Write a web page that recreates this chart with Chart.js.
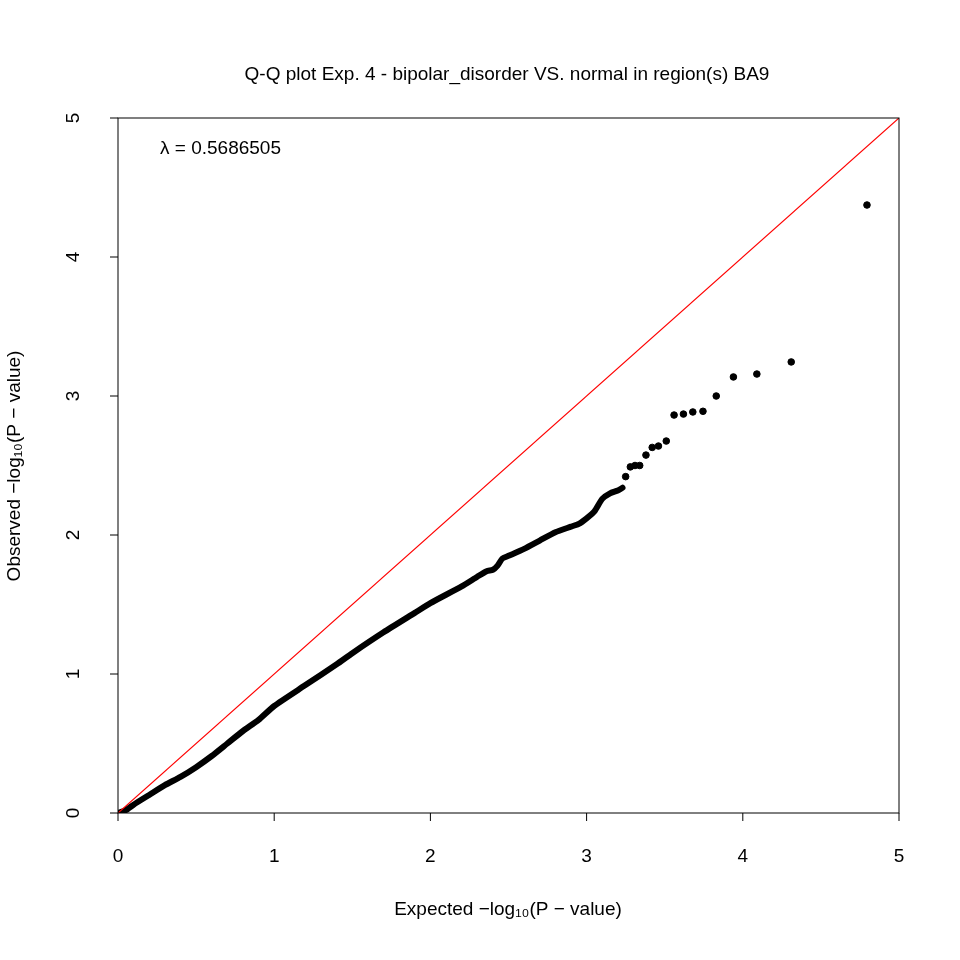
<!DOCTYPE html>
<html><head><meta charset="utf-8">
<script src="https://cdn.jsdelivr.net/npm/chart.js@4"></script>
<style>html,body{margin:0;padding:0;background:#fff}#w{width:960px;height:960px}</style>
</head><body><div id="w"><canvas id="c"></canvas></div>
<script>
const titleText = "Q-Q plot Exp. 4 - bipolar_disorder VS. normal in region(s) BA9";
const lambdaText = "λ = 0.5686505";
const xTicks = [0,1,2,3,4,5];
const yTicks = [0,1,2,3,4,5];
// dense body of the Q-Q curve (expected, observed)
const bodyX = [0.0,0.05,0.1,0.2,0.3,0.4,0.5,0.6,0.7,0.8,0.9,1.0,1.2,1.4,1.5,1.7,1.9,2.0,2.2,2.3,2.36,2.4,2.43,2.46,2.5,2.6,2.7,2.8,2.9,2.95,3.0,3.05,3.1,3.15,3.2,3.23];
const bodyY = [0.0,0.02,0.06,0.13,0.2,0.26,0.33,0.41,0.5,0.59,0.67,0.77,0.92,1.07,1.15,1.3,1.44,1.51,1.63,1.70,1.74,1.75,1.78,1.83,1.85,1.9,1.96,2.02,2.06,2.08,2.12,2.17,2.26,2.30,2.32,2.34];
// sparse tail points
const tailX = [3.25,3.28,3.31,3.34,3.38,3.42,3.46,3.51,3.56,3.62,3.68,3.745,3.83,3.94,4.09,4.31,4.795];
const tailY = [2.42,2.49,2.50,2.50,2.575,2.63,2.64,2.676,2.863,2.87,2.885,2.89,3.0,3.137,3.158,3.245,4.374];

const body = bodyX.map((x,i)=>({x, y: bodyY[i]}));
const tail = tailX.map((x,i)=>({x, y: tailY[i]}));

const deco = {
  id:'deco',
  afterDraw(ch){
    const c = ch.ctx, a = ch.chartArea, xs = ch.scales.x, ys = ch.scales.y;
    c.save();
    c.strokeStyle='#000'; c.lineWidth=1; c.fillStyle='#000';
    c.strokeRect(a.left, a.top, a.right-a.left, a.bottom-a.top);
    c.font='19px "Liberation Sans", Arial, sans-serif';
    c.textAlign='center'; c.textBaseline='middle';
    xTicks.forEach(t=>{const px=xs.getPixelForValue(t);
      c.beginPath(); c.moveTo(px,a.bottom); c.lineTo(px,a.bottom+8); c.stroke();
      c.fillText(String(t), px, a.bottom+44);});
    yTicks.forEach(t=>{const py=ys.getPixelForValue(t);
      c.beginPath(); c.moveTo(a.left,py); c.lineTo(a.left-8,py); c.stroke();
      c.save(); c.translate(a.left-44,py); c.rotate(-Math.PI/2); c.fillText(String(t),0,0); c.restore();});
    c.fillText(titleText, 507, 75);
    c.fillText("Expected −log₁₀(P − value)", 508, 910);
    c.save(); c.translate(15, 466); c.rotate(-Math.PI/2);
    c.fillText("Observed −log₁₀(P − value)", 0, 0); c.restore();
    c.textAlign='left';
    c.fillText(lambdaText, 160, 149);
    c.restore();
  }
};

new Chart(document.getElementById('c'), {
  type:'scatter',
  data:{datasets:[
    {type:'line', data:[{x:0,y:0},{x:5,y:5}], borderColor:'#ff0000', borderWidth:1.2, pointRadius:0, order:0},
    {type:'line', data:body, borderColor:'#000', borderWidth:6, pointRadius:0, tension:0.2, borderCapStyle:'round', order:1},
    {data:tail, backgroundColor:'#000', borderColor:'#000', pointRadius:3.3, order:1}
  ]},
  options:{
    responsive:true, maintainAspectRatio:false, animation:false,
    layout:{padding:{left:118,right:61,top:118,bottom:147}},
    plugins:{legend:{display:false},tooltip:{enabled:false}},
    scales:{
      x:{type:'linear',min:0,max:5,display:false},
      y:{type:'linear',min:0,max:5,display:false}
    }
  },
  plugins:[deco]
});
</script></body></html>
